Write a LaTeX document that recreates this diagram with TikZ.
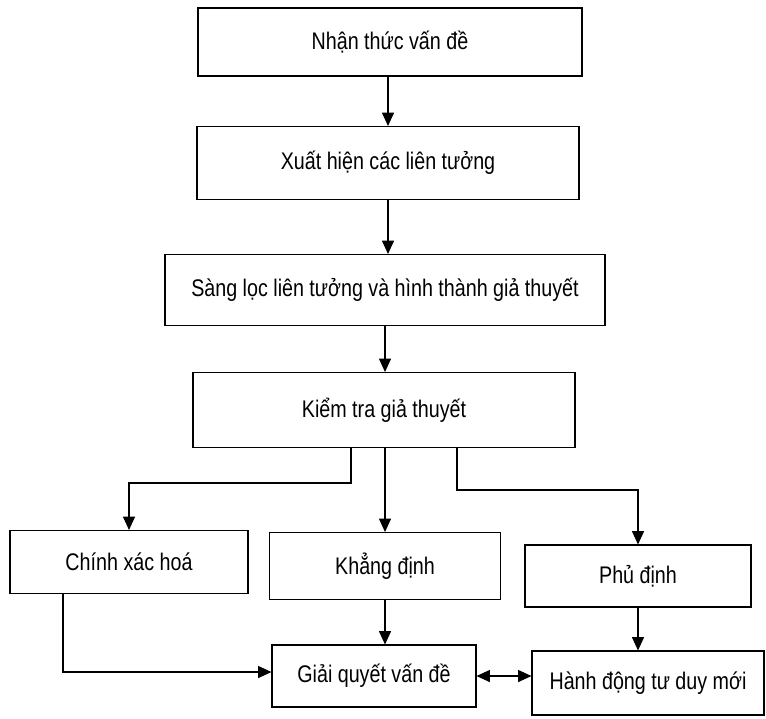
\documentclass[tikz,border=0pt]{standalone}
\usepackage{fontspec}
\setmainfont{Liberation Sans}[FakeStretch=0.82]
\usetikzlibrary{arrows.meta}

\begin{document}
\begin{tikzpicture}[x=0.03cm,y=-0.03cm,
	stepbox/.style={draw=black, line width=0.9pt, inner sep=0pt, font=\fontsize{20.5}{24}\selectfont},
	arr/.style={line width=0.9pt, -{Triangle[length=4mm,width=3.6mm]}},
	dbl/.style={line width=0.9pt, {Triangle[length=4mm,width=3.6mm]}-{Triangle[length=4mm,width=3.6mm]}}]
	\useasboundingbox (0,0) rectangle (766,718);
	\node [stepbox, minimum width=11.52cm, minimum height=2.04cm] (n1) at (390,42) {Nhận thức vấn đề};
	\node [stepbox, minimum width=11.46cm, minimum height=2.19cm] (n2) at (388,163) {Xuất hiện các liên tưởng};
	\node [stepbox, minimum width=13.2cm, minimum height=2.13cm] (n3) at (385,290) {Sàng lọc liên tưởng và hình thành giả thuyết};
	\node [stepbox, minimum width=11.46cm, minimum height=2.25cm] (n4) at (384,410) {Kiểm tra giả thuyết};
	\node [stepbox, minimum width=7.14cm, minimum height=1.89cm] (n5) at (129,562) {Chính xác hoá};
	\node [stepbox, minimum width=6.93cm, minimum height=2.01cm] (n6) at (385,566) {Khẳng định};
	\node [stepbox, minimum width=6.78cm, minimum height=1.86cm] (n7) at (638,576) {Phủ định};
	\node [stepbox, minimum width=6.12cm, minimum height=1.86cm] (n8) at (374,676) {Giải quyết vấn đề};
	\node [stepbox, minimum width=6.96cm, minimum height=1.92cm] (n9) at (648,683) {Hành động tư duy mới};
	\coordinate (kl) at (351,483);
	\coordinate (kr) at (457,490);
	\coordinate (cl) at (63,672);
	\draw [arr] (n2 |- n1.south) -- (n2.north);
	\draw [arr] (n2.south) -- (n2.south |- n3.north);
	\draw [arr] (n3.south) -- (n3.south |- n4.north);
	\draw [arr] (kl |- n4.south) -- (kl) -| (n5.north);
	\draw [arr] (n6 |- n4.south) -- (n6.north);
	\draw [arr] (kr |- n4.south) -- (kr) -| (n7.north);
	\draw [arr] (n6.south) -- (n6.south |- n8.north);
	\draw [arr] (n7.south) -- (n7.south |- n9.north);
	\draw [arr] (cl |- n5.south) -- (cl) -- (cl -| n8.west);
	\draw [dbl] (n8.east) -- (n8.east -| n9.west);
\end{tikzpicture}
\end{document}
